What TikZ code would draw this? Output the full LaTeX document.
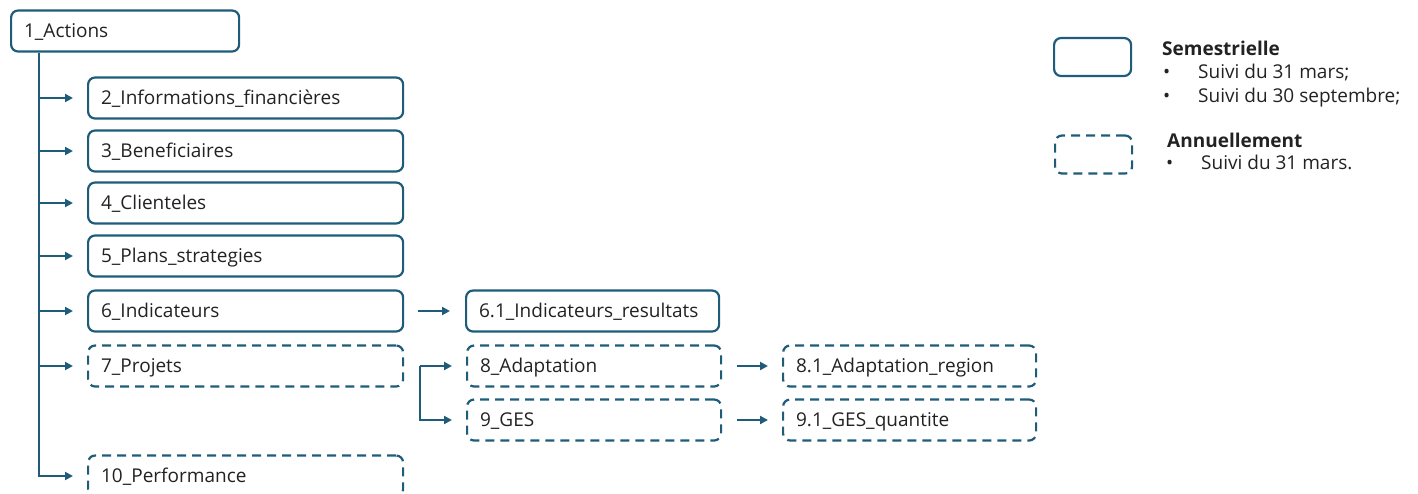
\documentclass[tikz,border=0pt]{standalone}
\usepackage{fontspec}
\setmainfont{Open Sans}
\usetikzlibrary{arrows.meta,calc}
\definecolor{edge}{HTML}{1F5C7A}
\definecolor{txt}{HTML}{222222}
\begin{document}
\begin{tikzpicture}[x=1pt,y=-1pt,
  box/.style={draw=edge, line width=2.2pt, rounded corners=7pt, minimum height=41pt,
    inner xsep=13pt, inner ysep=0pt, anchor=west, align=left,
    text height=15pt, text depth=2pt,
    font=\fontsize{19}{22}\selectfont, text=txt},
  dbox/.style={box, dash pattern=on 9pt off 6pt},
  lbox/.style={draw=edge, line width=2.2pt, rounded corners=7pt, minimum width=77pt,
    minimum height=38pt, inner sep=0pt, anchor=west},
  ltitle/.style={anchor=base west, inner sep=0pt, text=txt, font=\fontsize{19}{22}\selectfont\bfseries},
  litem/.style={anchor=base west, inner sep=0pt, text=txt, font=\fontsize{19}{22}\selectfont},
  conn/.style={draw=edge, line width=2pt},
  arr/.style={conn, -{Triangle[length=8pt,width=8pt]}},
]
\useasboundingbox (0,0) rectangle (1418,493);
\clip (0,0) rectangle (1418,493);

% main column
\node[box, text width=202pt] (a1) at (10,31) {1\_Actions};
\node[box, text width=289pt] (b2) at (87,98) {2\_Informations\_financières};
\node[box, text width=289pt] (b3) at (87,151) {3\_Beneficiaires};
\node[box, text width=289pt] (b4) at (87,203) {4\_Clienteles};
\node[box, text width=289pt] (b5) at (87,256) {5\_Plans\_strategies};
\node[box, text width=289pt] (b6) at (87,311) {6\_Indicateurs};
\node[dbox, text width=289pt] (b7) at (87,366) {7\_Projets};
\node[dbox, text width=289pt] (b10) at (87,476) {10\_Performance};

% second level
\node[box, text width=227pt] (b61) at (465,311) {6.1\_Indicateurs\_resultats};
\node[dbox, text width=228pt] (b8) at (466,366) {8\_Adaptation};
\node[dbox, text width=228pt] (b9) at (466,420) {9\_GES};
\node[dbox, text width=227pt] (b81) at (782,366) {8.1\_Adaptation\_region};
\node[dbox, text width=227pt] (b91) at (782,420) {9.1\_GES\_quantite};

% connectors
\coordinate (sp) at ([xshift=29pt]a1.south west);
\draw[arr] (sp) |- ([xshift=-14pt]b10.west);
\foreach \n in {b2,b3,b4,b5,b6,b7}
  \draw[arr] (sp |- \n.west) -- ([xshift=-14pt]\n.west);
\draw[arr] ([xshift=14pt]b6.east) -- ([xshift=-15pt]b61.west);
\coordinate (fork) at ([xshift=16pt]b7.east);
\draw[arr] (fork) -- ([xshift=-14pt]b8.west);
\draw[arr] (fork) |- ([xshift=-14pt]b9.west);
\draw[arr] ([xshift=15pt]b8.east) -- ([xshift=-14pt]b81.west);
\draw[arr] ([xshift=15pt]b9.east) -- ([xshift=-14pt]b91.west);

% legend
\node[lbox] (ls) at (1053,57) {};
\node[lbox, dash pattern=on 9pt off 6pt] (la) at (1054,154.5) {};
\node[ltitle] (ts) at (1162,55) {Semestrielle};
\node[litem] (s1b) at (1163,78) {•};
\node[litem] (s1) at (1198,78) {Suivi du 31 mars;};
\node[litem] (s2b) at (1163,102) {•};
\node[litem] (s2) at (1198,102) {Suivi du 30 septembre;};
\node[ltitle] (ta) at (1167,147) {Annuellement};
\node[litem] (a1b) at (1166,169) {•};
\node[litem] (a1t) at (1201,169) {Suivi du 31 mars.};
\end{tikzpicture}
\end{document}
